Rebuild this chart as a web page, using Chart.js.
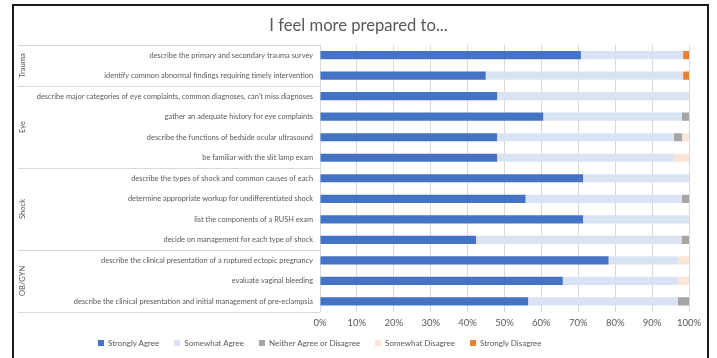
<!DOCTYPE html>
<html>
<head>
<meta charset="utf-8">
<script src="https://cdn.jsdelivr.net/npm/chart.js@4.4.1/dist/chart.umd.min.js"></script>
<style>
  body { margin: 0; background: #fff; }
  #wrap { position: relative; width: 717px; height: 358px; }
  #frame { position: absolute; left: 12px; top: 4px; width: 697px; height: 360px;
           border: 2px solid #1a1a1a; border-bottom: none; box-sizing: border-box; pointer-events: none; }
  #legend { position: absolute; left: 98px; top: 338px; display: flex; gap: 15px;
            font-family: Lato, sans-serif; font-size: 8px; color: #595959; }
  #legend span.item { display: flex; align-items: center; }
  #legend i { display: inline-block; width: 6px; height: 6px; margin-right: 4px; }
</style>
</head>
<body>
<div id="wrap">
  <canvas id="chart1" width="717" height="358"></canvas>
  <div id="frame"></div>
  <div id="legend"></div>
</div>
<script>
// categories, top to bottom
const topics = [
    'describe the primary and secondary trauma survey',
    'identify common abnormal findings requiring timely intervention',
    'describe major categories of eye complaints, common diagnoses, can\u2019t miss diagnoses',
    'gather an adequate history for eye complaints',
    'describe the functions of bedside ocular ultrasound',
    'be familiar with the slit lamp exam',
    'describe the types of shock and common causes of each',
    'determine appropriate workup for undifferentiated shock',
    'list the components of a RUSH exam',
    'decide on management for each type of shock',
    'describe the clinical presentation of a ruptured ectopic pregnancy',
    'evaluate vaginal bleeding',
    'describe the clinical presentation and initial management of pre-eclampsia'
];
const groups = ['Trauma', 'Eye', 'Shock', 'OB/GYN'];
const groupSizes = [2, 4, 4, 3];

// percent of responses
const stronglyAgree    = [70.7, 44.9, 48.0, 60.5, 48.0, 48.0, 71.3, 55.7, 71.3, 42.3, 78.2, 65.8, 56.4];
const somewhatAgree    = [27.7, 53.5, 52.0, 37.6, 47.9, 47.9, 28.7, 42.3, 28.7, 55.7, 18.8, 31.2, 40.6];
const neither          = [0,    0,    0,    1.9,  2.2,  0,    0,    2.0,  0,    2.0,  0,    0,    3.0];
const somewhatDisagree = [0,    0,    0,    0,    1.9,  4.1,  0,    0,    0,    0,    3.0,  3.0,  0];
const stronglyDisagree = [1.6,  1.6,  0,    0,    0,    0,    0,    0,    0,    0,    0,    0,    0];

const seriesNames = ['Strongly Agree', 'Somewhat Agree', 'Neither Agree or Disagree', 'Somewhat Disagree', 'Strongly Disagree'];
const seriesColors = ['#4472C4', '#DAE3F3', '#A5A5A5', '#FBE5D6', '#ED7D31'];
const seriesValues = [stronglyAgree, somewhatAgree, neither, somewhatDisagree, stronglyDisagree];

const fontFamily = 'Lato, sans-serif';
const textColor = '#595959';

// group labels + separator lines on the left
const groupPlugin = {
    id: 'groups',
    afterDraw(chart) {
        const ctx = chart.ctx;
        const y = chart.scales.y;
        const area = chart.chartArea;
        const step = y.getPixelForValue(1) - y.getPixelForValue(0);
        ctx.save();
        ctx.strokeStyle = '#d9d9d9';
        ctx.lineWidth = 1;
        let start = 0;
        const lines = [area.top];
        groups.forEach(function (g, i) {
            const end = start + groupSizes[i] - 1;
            const top = y.getPixelForValue(start) - step / 2;
            const bottom = y.getPixelForValue(end) + step / 2;
            lines.push(bottom);
            ctx.save();
            ctx.translate(23, (top + bottom) / 2);
            ctx.rotate(-Math.PI / 2);
            ctx.fillStyle = textColor;
            ctx.font = '7.6px ' + fontFamily;
            ctx.textAlign = 'center';
            ctx.textBaseline = 'middle';
            ctx.fillText(g, 0, 0);
            ctx.restore();
            start = end + 1;
        });
        lines.forEach(function (ly) {
            ctx.beginPath();
            ctx.moveTo(18, Math.round(ly) + 0.5);
            ctx.lineTo(area.left, Math.round(ly) + 0.5);
            ctx.stroke();
        });
        ctx.restore();
    }
};

const chartData = {
    labels: topics,
    datasets: seriesNames.map(function (name, i) {
        return {
            label: name,
            data: seriesValues[i],
            backgroundColor: seriesColors[i],
            barPercentage: 0.4,
            categoryPercentage: 1.0
        };
    })
};

const config = {
    type: 'bar',
    data: chartData,
    options: {
        indexAxis: 'y',
        responsive: false,
        animation: false,
        layout: {
            padding: { left: 0, right: 0, top: 0, bottom: 23 }
        },
        scales: {
            x: {
                stacked: true,
                min: 0,
                max: 100,
                afterFit: function (scale) { scale.paddingRight = 28; },
                ticks: {
                    stepSize: 10,
                    padding: 6,
                    color: textColor,
                    font: { family: fontFamily, size: 9.5 },
                    callback: function (v) { return v + '%'; }
                },
                grid: { color: '#d9d9d9', drawTicks: false },
                border: { display: false }
            },
            y: {
                stacked: true,
                afterFit: function (scale) { scale.width = 320; },
                ticks: {
                    padding: 7,
                    color: textColor,
                    font: { family: fontFamily, size: 7.4 }
                },
                grid: { display: false, drawTicks: false },
                border: { display: false }
            }
        },
        plugins: {
            title: {
                display: true,
                text: 'I feel more prepared to...',
                color: textColor,
                font: { family: fontFamily, size: 16.6, weight: 'normal' },
                padding: { top: 16, bottom: 9 }
            },
            legend: { display: false },
            tooltip: { enabled: false }
        }
    },
    plugins: [groupPlugin]
};

var myBarchart = new Chart(document.getElementById('chart1'), config);

// legend
const legendBox = document.getElementById('legend');
seriesNames.forEach(function (name, i) {
    const item = document.createElement('span');
    item.className = 'item';
    const sw = document.createElement('i');
    sw.style.background = seriesColors[i];
    item.appendChild(sw);
    item.appendChild(document.createTextNode(name));
    legendBox.appendChild(item);
});
</script>
</body>
</html>
